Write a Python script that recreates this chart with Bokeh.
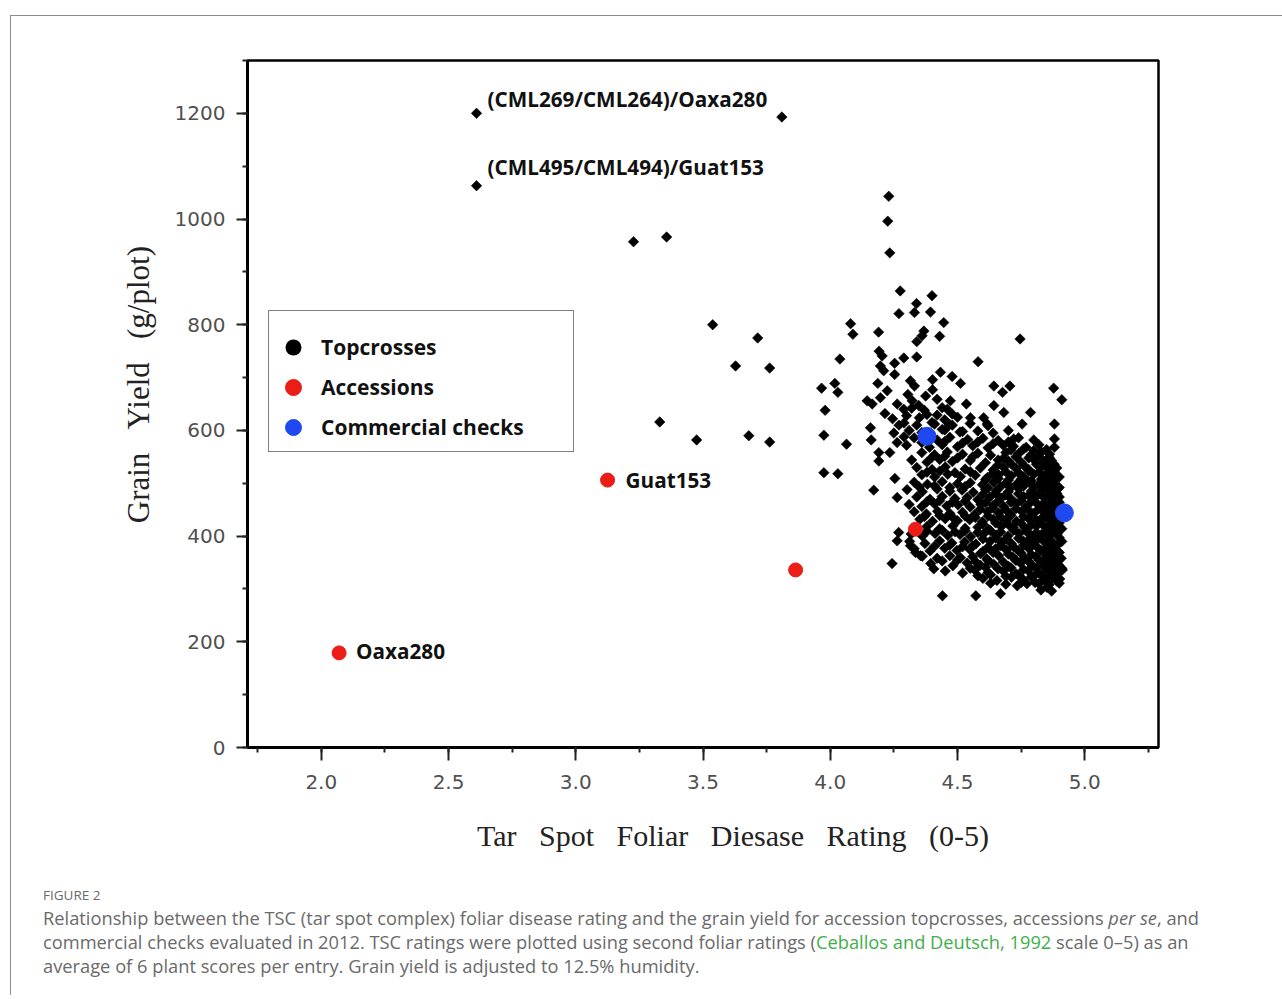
from bokeh.plotting import figure
from bokeh.models import (ColumnDataSource, Range1d, SingleIntervalTicker, Legend, LegendItem, Div,
                          PrintfTickFormatter, Spacer)
from bokeh.layouts import column, row
from bokeh.core.properties import value
from bokeh.embed import file_html
from bokeh.resources import INLINE
import math

# ---------------- data ----------------
# Topcrosses: isolated points
topcross_sparse = [
    (2.61, 1200), (2.61, 1063), (3.81, 1193), (3.227, 957), (3.357, 966), (3.538, 800),
    (3.628, 722), (3.715, 775), (3.762, 718), (3.33, 616), (3.475, 582), (3.68, 590), (3.762, 578),
    (4.23, 1043), (4.226, 996), (4.234, 936), (4.275, 864), (4.40, 855), (4.339, 840), (4.331, 823),
    (4.394, 824), (4.27, 821), (4.446, 804), (4.08, 802), (4.089, 782), (4.19, 786), (4.368, 788),
    (4.361, 779), (4.43, 778), (4.34, 768), (4.746, 773), (4.038, 735), (4.192, 750), (4.204, 741),
    (4.289, 737), (4.34, 739), (4.253, 727), (4.581, 730), (4.197, 722), (4.21, 713), (4.253, 706),
    (4.433, 710), (4.479, 702), (4.512, 689), (3.966, 680), (4.018, 689), (4.03, 672), (4.187, 689),
    (4.331, 684), (4.402, 696), (4.402, 677), (4.643, 684), (4.706, 684), (4.677, 672), (4.878, 680),
    (4.91, 658), (4.145, 656), (4.165, 650), (4.197, 662), (4.224, 675), (4.263, 650), (4.289, 640),
    (4.322, 656), (4.348, 647), (4.42, 659), (4.472, 656), (3.98, 638), (4.643, 647), (4.682, 634),
    (4.787, 634), (4.551, 624), (4.603, 624), (3.975, 591), (4.064, 574), (3.975, 520), (4.03, 518),
    (4.171, 487), (4.158, 605), (4.161, 582), (4.191, 558), (4.191, 542), (4.234, 558), (4.263, 577),
    (4.254, 509), (4.263, 473), (4.243, 348), (4.269, 407), (4.263, 391), (4.315, 382), (4.335, 369),
    (4.355, 363), (4.407, 338), (4.441, 287), (4.572, 287), (4.669, 291), (4.754, 612), (4.881, 612),
    (4.881, 584), (4.881, 568), (4.721, 584), (4.617, 612), (4.479, 631), (4.27, 610), (4.38, 630),
    (4.41, 612), (4.45, 620), (4.25, 595), (4.29, 588), (4.44, 602), (4.48, 610), (4.52, 598),
    (4.215, 632), (4.245, 622), (4.305, 668), (4.375, 665), (4.315, 694), (4.46, 640), (4.535, 650),
]

# Topcrosses: dense core of the cloud (first layer)
topcross_core = [
    (4.773, 310), (4.852, 303), (4.890, 315), (4.828, 298), (4.870, 296), (4.805, 312), (4.735, 306),
    (4.600, 320), (4.655, 316), (4.712, 322), (4.758, 318), (4.800, 324), (4.842, 317), (4.873, 321), (4.902, 319),
    (4.452, 334), (4.520, 330), (4.568, 336), (4.620, 331), (4.680, 334), (4.730, 329), (4.778, 335), (4.820, 331),
    (4.856, 333), (4.886, 330), (4.912, 336),
    (4.395, 348), (4.482, 344), (4.538, 349), (4.590, 345), (4.642, 347), (4.700, 343), (4.748, 349), (4.792, 346),
    (4.838, 344), (4.868, 348), (4.898, 345),
    (4.362, 362), (4.420, 358), (4.470, 363), (4.512, 359), (4.560, 361), (4.615, 357), (4.662, 363), (4.718, 360),
    (4.762, 358), (4.808, 362), (4.848, 359), (4.880, 361), (4.908, 358),
    (4.330, 376), (4.392, 372), (4.450, 377), (4.498, 373), (4.548, 375), (4.600, 371), (4.650, 376), (4.692, 374),
    (4.740, 372), (4.782, 376), (4.828, 373), (4.862, 375), (4.892, 372),
    (4.312, 390), (4.372, 386), (4.430, 391), (4.478, 387), (4.528, 389), (4.572, 385), (4.628, 390), (4.672, 388),
    (4.712, 386), (4.758, 391), (4.800, 387), (4.842, 389), (4.878, 386), (4.910, 390),
    (4.318, 404), (4.362, 400), (4.412, 405), (4.462, 401), (4.510, 403), (4.552, 399), (4.602, 404), (4.652, 402),
    (4.698, 400), (4.742, 405), (4.790, 401), (4.830, 403), (4.862, 400), (4.892, 404),
    (4.380, 418), (4.430, 414), (4.482, 419), (4.530, 415), (4.580, 417), (4.622, 413), (4.672, 418), (4.720, 416),
    (4.768, 414), (4.810, 419), (4.850, 415), (4.882, 417), (4.910, 414),
    (4.352, 432), (4.402, 428), (4.452, 433), (4.500, 429), (4.548, 431), (4.598, 427), (4.642, 432), (4.690, 430),
    (4.732, 428), (4.780, 433), (4.822, 429), (4.858, 431), (4.890, 428),
    (4.330, 446), (4.378, 442), (4.422, 447), (4.470, 443), (4.520, 445), (4.568, 441), (4.618, 446), (4.662, 444),
    (4.708, 442), (4.752, 447), (4.800, 443), (4.840, 445), (4.872, 442), (4.902, 446),
    (4.310, 460), (4.360, 456), (4.410, 461), (4.458, 457), (4.502, 459), (4.550, 455), (4.592, 460), (4.640, 458),
    (4.682, 456), (4.730, 461), (4.772, 457), (4.818, 459), (4.852, 456), (4.882, 460),
    (4.340, 474), (4.392, 470), (4.440, 475), (4.490, 471), (4.538, 473), (4.580, 469), (4.628, 474), (4.672, 472),
    (4.712, 470), (4.760, 475), (4.802, 471), (4.840, 473), (4.872, 470), (4.900, 474),
    (4.302, 488), (4.362, 484), (4.420, 489), (4.470, 485), (4.518, 487), (4.562, 483), (4.610, 488), (4.652, 486),
    (4.700, 484), (4.742, 489), (4.790, 485), (4.830, 487), (4.862, 484), (4.892, 488),
    (4.330, 502), (4.382, 498), (4.440, 503), (4.500, 499), (4.550, 501), (4.598, 497), (4.642, 502), (4.690, 500),
    (4.732, 498), (4.780, 503), (4.822, 499), (4.852, 501), (4.882, 498),
    (4.360, 516), (4.410, 512), (4.462, 517), (4.512, 513), (4.570, 515), (4.618, 511), (4.662, 516), (4.712, 514),
    (4.760, 512), (4.800, 517), (4.840, 513), (4.870, 515), (4.900, 512),
    (4.340, 530), (4.400, 526), (4.452, 531), (4.530, 527), (4.590, 529), (4.640, 525), (4.682, 530), (4.730, 528),
    (4.780, 526), (4.830, 531), (4.860, 527), (4.890, 529),
    (4.320, 544), (4.380, 540), (4.430, 545), (4.480, 541), (4.550, 543), (4.610, 539), (4.660, 544), (4.700, 542),
    (4.750, 540), (4.800, 545), (4.840, 541), (4.870, 543),
    (4.360, 558), (4.410, 554), (4.460, 559), (4.520, 555), (4.580, 557), (4.630, 553), (4.690, 558), (4.740, 556),
    (4.790, 554), (4.830, 559), (4.862, 555),
    (4.300, 572), (4.390, 568), (4.440, 573), (4.500, 569), (4.560, 571), (4.620, 567), (4.680, 572), (4.720, 570),
    (4.770, 568), (4.820, 573),
    (4.330, 586), (4.420, 582), (4.470, 587), (4.540, 583), (4.600, 585), (4.660, 581), (4.740, 586), (4.800, 582),
    (4.310, 600), (4.360, 596), (4.450, 601), (4.510, 597), (4.580, 599), (4.640, 595), (4.700, 600),
    (4.290, 614), (4.340, 610), (4.400, 615), (4.470, 611), (4.550, 613), (4.620, 609),
    (4.300, 628), (4.350, 624), (4.420, 629), (4.500, 625),
    (4.320, 642), (4.370, 638), (4.440, 643),
]

# Topcrosses: dense core of the cloud (second, interleaved layer)
topcross_core_fill = [
    (4.630, 311), (4.690, 309), (4.750, 312), (4.820, 310), (4.860, 308), (4.900, 311),
    (4.580, 325), (4.630, 327), (4.690, 324), (4.740, 326), (4.790, 323), (4.830, 326), (4.860, 324), (4.890, 327),
    (4.550, 339), (4.610, 341), (4.660, 338), (4.710, 340), (4.760, 337), (4.810, 340), (4.850, 338), (4.880, 341), (4.910, 339),
    (4.440, 353), (4.500, 355), (4.570, 352), (4.620, 354), (4.680, 351), (4.730, 354), (4.780, 352), (4.820, 355),
    (4.860, 352), (4.890, 354),
    (4.590, 367), (4.640, 369), (4.700, 366), (4.750, 368), (4.790, 365), (4.840, 368), (4.870, 366), (4.900, 369),
    (4.410, 381), (4.470, 383), (4.520, 380), (4.560, 382), (4.620, 379), (4.670, 382), (4.720, 380), (4.760, 383),
    (4.810, 381), (4.850, 379), (4.890, 382),
    (4.600, 395), (4.650, 397), (4.690, 394), (4.740, 396), (4.780, 393), (4.820, 396), (4.860, 394), (4.900, 397),
    (4.380, 409), (4.440, 411), (4.490, 408), (4.530, 410), (4.580, 407), (4.630, 410), (4.670, 408), (4.720, 411),
    (4.770, 409), (4.810, 407), (4.850, 410), (4.880, 408),
    (4.600, 423), (4.650, 425), (4.700, 422), (4.750, 424), (4.790, 421), (4.830, 424), (4.870, 422), (4.900, 425),
    (4.370, 437), (4.430, 439), (4.480, 436), (4.530, 438), (4.570, 435), (4.620, 438), (4.670, 436), (4.710, 439),
    (4.760, 437), (4.800, 435), (4.840, 438), (4.880, 436),
    (4.590, 451), (4.640, 453), (4.690, 450), (4.730, 452), (4.780, 449), (4.820, 452), (4.860, 450), (4.890, 453),
    (4.380, 465), (4.430, 467), (4.480, 464), (4.530, 466), (4.610, 463), (4.660, 466), (4.710, 464), (4.750, 467),
    (4.790, 465), (4.840, 463), (4.870, 466), (4.900, 464),
    (4.600, 479), (4.650, 481), (4.690, 478), (4.740, 480), (4.780, 477), (4.820, 480), (4.860, 478), (4.890, 481),
    (4.350, 493), (4.410, 495), (4.470, 492), (4.530, 494), (4.620, 491), (4.670, 494), (4.710, 492), (4.760, 495),
    (4.800, 493), (4.840, 491), (4.870, 494), (4.900, 492),
    (4.610, 507), (4.660, 509), (4.700, 506), (4.750, 508), (4.790, 505), (4.830, 508), (4.860, 506), (4.890, 509),
    (4.380, 521), (4.430, 523), (4.490, 520), (4.550, 522), (4.640, 519), (4.690, 522), (4.740, 520), (4.780, 523),
    (4.820, 521), (4.850, 519), (4.880, 522),
    (4.660, 535), (4.710, 537), (4.760, 534), (4.810, 536), (4.850, 533), (4.880, 536),
    (4.400, 549), (4.450, 551), (4.500, 548), (4.560, 550), (4.680, 547), (4.730, 550), (4.780, 548), (4.820, 551),
    (4.860, 549),
    (4.710, 563), (4.760, 565), (4.800, 562), (4.850, 564),
    (4.360, 577), (4.450, 579), (4.520, 576), (4.580, 578), (4.640, 575), (4.700, 578),
]

accession_x = [2.07, 3.125, 3.864, 4.335]
accession_y = [179, 506, 336, 413]

check_x = [4.38, 4.92]
check_y = [589, 444]

label_text = ["(CML269/CML264)/Oaxa280", "(CML495/CML494)/Guat153", "Guat153", "Oaxa280"]
label_x = [2.61, 2.61, 3.125, 2.07]
label_y = [1200, 1063, 506, 179]
label_dx = [11, 11, 18, 17]
label_dy = [-14, -19, 0, -2]

legend_labels = ["Topcrosses", "Accessions", "Commercial checks"]
x_ticks_interval = 0.5
y_ticks_interval = 200

NB = "\u00a0"

# ---------------- figure ----------------
tc = topcross_sparse + topcross_core + topcross_core_fill
tc_src = ColumnDataSource(data=dict(x=[q[0] for q in tc], y=[q[1] for q in tc]))
acc_src = ColumnDataSource(data=dict(x=accession_x, y=accession_y))
chk_src = ColumnDataSource(data=dict(x=check_x, y=check_y))
lab_src = ColumnDataSource(data=dict(x=label_x, y=label_y, text=label_text, dx=label_dx, dy=label_dy))

p = figure(width=1262, height=859, output_backend="svg", toolbar_location=None,
           x_range=Range1d(1.71, 5.29), y_range=Range1d(0, 1300),
           min_border_left=236, min_border_right=115, min_border_top=44, min_border_bottom=128)
p.grid.visible = False
p.outline_line_color = "black"
p.outline_line_width = 2.5
p.background_fill_color = "white"
p.border_fill_color = "white"

# circle renderer used for the legend swatch of topcrosses (hidden under the diamonds)
r_tc_leg = p.scatter("x", "y", source=tc_src, marker="circle", size=1, fill_color="black", line_color=None)
r_tc = p.scatter("x", "y", source=tc_src, marker="square", angle=math.pi / 4, size=7.4,
                 fill_color="black", line_color="black", line_width=0.6)
r_acc = p.scatter("x", "y", source=acc_src, marker="circle", size=14, fill_color="#ec1c16", line_color="#ec1c16")
r_chk = p.scatter("x", "y", source=chk_src, marker="circle", size=18, fill_color="#1f48f0", line_color="#1f48f0")

p.text("x", "y", text="text", source=lab_src, x_offset="dx", y_offset="dy",
       text_font=value("Open Sans"), text_font_style="bold", text_font_size="20.7px",
       text_baseline="middle", text_align="left", text_color="#111111")

# labels carry an empty second line so that the text sits a little above the swatch, as in the original
legend = Legend(items=[LegendItem(label=l + "\n", renderers=[r])
                       for l, r in zip(legend_labels, [r_tc_leg, r_acc, r_chk])],
                location=(21, 295), padding=4, spacing=0, margin=0,
                glyph_width=40, glyph_height=40, label_height=21, label_standoff=8, label_width=248,
                label_text_font="Open Sans", label_text_font_style="bold", label_text_font_size="21px",
                label_text_baseline="middle", label_text_line_height=0.86, label_text_color="#111111",
                border_line_color="black", border_line_width=1.5, background_fill_alpha=1.0,
                title=" ", title_text_font_size="8px", title_standoff=3)
p.add_layout(legend)

# axes
xa = p.xaxis[0]
xa.ticker = SingleIntervalTicker(interval=x_ticks_interval, num_minor_ticks=2)
xa.formatter = PrintfTickFormatter(format="%.1f")
xa.axis_label = NB * 8 + "Tar" + NB * 3 + "Spot" + NB * 3 + "Foliar" + NB * 3 + "Diesase" + NB * 3 + "Rating" + NB * 3 + "(0-5)"
ya = p.yaxis[0]
ya.ticker = SingleIntervalTicker(interval=y_ticks_interval, num_minor_ticks=2)
ya.axis_label = NB * 5 + "Grain" + NB * 3 + "Yield" + NB * 3 + "(g/plot)"
for ax in (xa, ya):
    ax.axis_line_width = 3
    ax.axis_line_color = "black"
    ax.major_tick_line_width = 2
    ax.minor_tick_line_width = 2
    ax.major_tick_line_color = "#222222"
    ax.minor_tick_line_color = "#222222"
    ax.major_tick_in = 0
    ax.minor_tick_in = 0
    ax.minor_tick_out = 5
    ax.major_label_text_font = "DejaVu Sans"
    ax.major_label_text_font_size = "20px"
    ax.major_label_text_color = "#505050"
    ax.axis_label_text_font = "Liberation Serif"
    ax.axis_label_text_font_size = "30px"
    ax.axis_label_text_font_style = "normal"
    ax.axis_label_text_color = "#222222"
ya.axis_label_text_font_size = "31px"
xa.major_tick_out = 13
xa.major_label_standoff = 14
xa.axis_label_standoff = 27
ya.major_tick_out = 11
ya.major_label_standoff = 11
ya.axis_label_standoff = 16

caption = Div(width=1262, height=110, text=(
    '<div style="padding:6px 0 0 27px; font-family:\'Open Sans\', sans-serif; color:#6a6a6a; white-space:nowrap;">'
    '<div style="font-size:13.5px; line-height:18px; margin-bottom:2px;">FIGURE 2</div>'
    '<div style="font-size:18.3px; line-height:24px;">'
    'Relationship between the TSC (tar spot complex) foliar disease rating and the grain yield for accession topcrosses, accessions <i>per se</i>, and<br>'
    'commercial checks evaluated in 2012. TSC ratings were plotted using second foliar ratings '
    '(<span style="color:#3daf4b;">Ceballos and Deutsch, 1992</span> scale 0&#8211;5) as an<br>'
    'average of 6 plant scores per entry. Grain yield is adjusted to 12.5% humidity.'
    '</div></div>'))

inner = column(p, caption, styles={"border-left": "1px solid #8c8c8c", "border-top": "1px solid #8c8c8c"})
layout = column(Spacer(height=15), row(Spacer(width=10), inner))

open("out.html", "w").write(file_html(layout, INLINE))
